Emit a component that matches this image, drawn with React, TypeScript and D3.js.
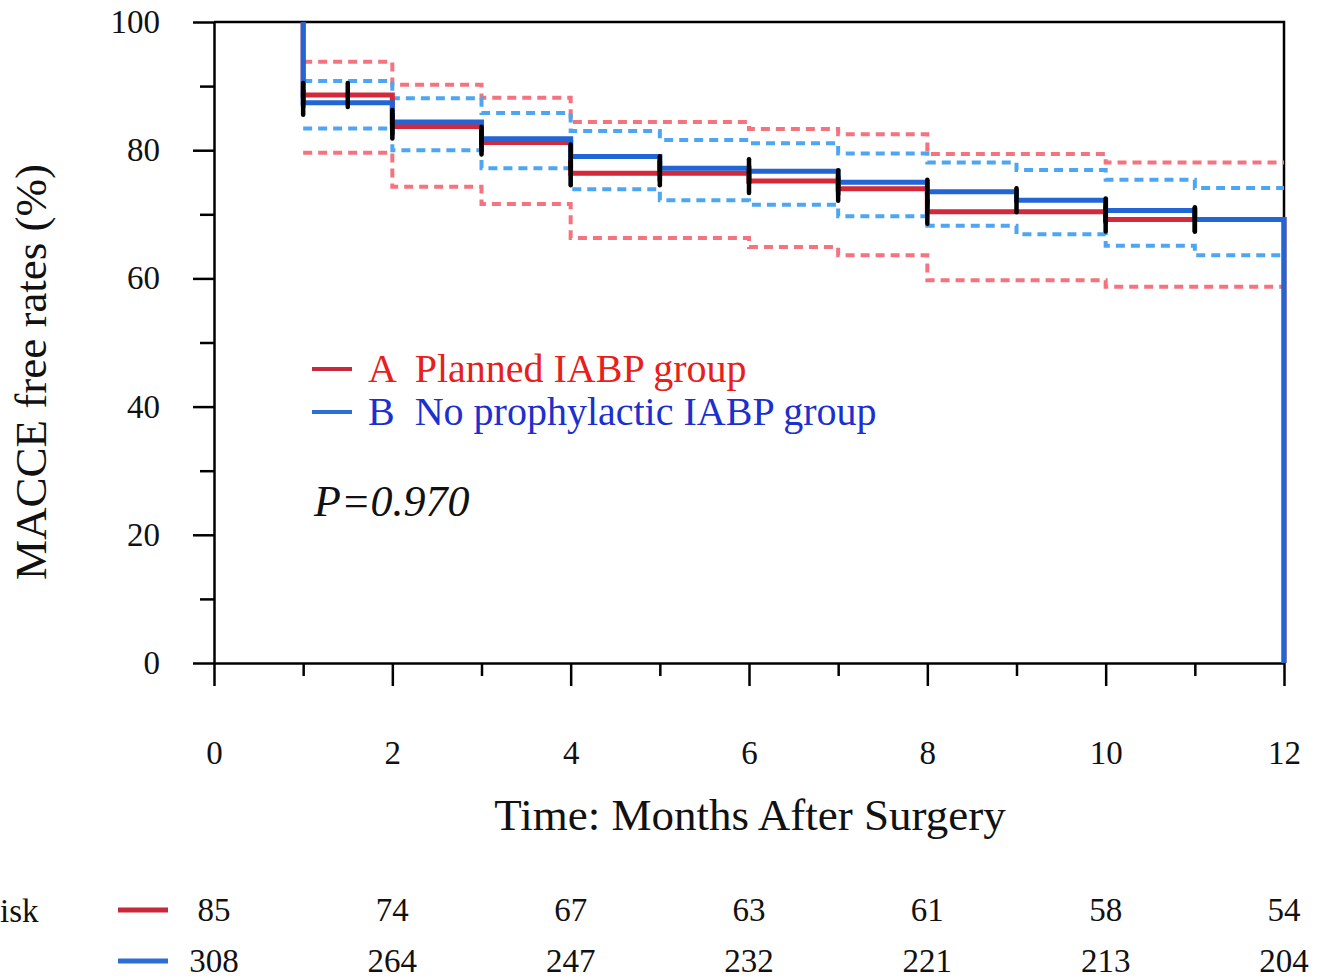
import React, { useEffect, useRef } from 'react';
import * as d3 from 'd3';

// step times (months) and survival after each step
const months = [1, 2, 3, 4, 5, 6, 7, 8, 9, 10, 11];
const survA = [88.6, 83.7, 81.2, 76.4, 76.4, 75.2, 74.0, 70.4, 70.4, 69.2, 69.2];
const survB = [87.4, 84.4, 81.8, 79.0, 77.2, 76.7, 75.0, 73.5, 72.2, 70.6, 69.2];
// 95% CI bands
const upperA = [93.8, 90.2, 88.2, 84.4, 84.4, 83.3, 82.5, 79.4, 79.4, 78.1, 78.1];
const lowerA = [79.6, 74.3, 71.6, 66.3, 66.3, 64.9, 63.6, 59.7, 59.7, 58.7, 58.7];
const upperB = [90.8, 88.1, 85.8, 83.0, 81.6, 81.1, 79.5, 78.1, 76.9, 75.4, 74.1];
const lowerB = [83.4, 80.0, 77.2, 73.9, 72.2, 71.5, 69.7, 68.2, 66.9, 65.1, 63.6];
// censor marks
const censorA = [1, 1.5, 2, 3, 4, 5, 6, 7, 8, 10, 11];
const censorB = [1, 2, 3, 4, 5, 6, 7, 8, 9, 10, 11];
const endTime = 12;

const riskTimes = [0, 2, 4, 6, 8, 10, 12];
const riskA = [85, 74, 67, 63, 61, 58, 54];
const riskB = [308, 264, 247, 232, 221, 213, 204];

const xTicks = [0, 2, 4, 6, 8, 10, 12];
const xMinor = [1, 3, 5, 7, 9, 11];
const yTicks = [0, 20, 40, 60, 80, 100];
const yMinor = [10, 30, 50, 70, 90];

const serif = '"Liberation Serif", "Times New Roman", serif';

function valueAt(t: number, surv: number[]) {
  let v = 100;
  months.forEach((m, i) => {
    if (m <= t) v = surv[i];
  });
  return v;
}

export default function App() {
  const ref = useRef<SVGSVGElement>(null);

  useEffect(() => {
    const svg = d3.select(ref.current);
    svg.selectAll('*').remove();

    const left = 214, right = 1284, top = 22, bottom = 663;
    const x = d3.scaleLinear().domain([0, 12]).range([left, right]);
    const y = d3.scaleLinear().domain([0, 100]).range([bottom, top]);

    // frame top / right
    svg.append('path')
      .attr('d', `M${left},${top}H${right}V${bottom}`)
      .attr('fill', 'none')
      .attr('stroke', '#000')
      .attr('stroke-width', 2.5);

    // axes
    const yAxis = svg.append('g').attr('transform', `translate(${left},0)`)
      .call(d3.axisLeft(y).tickValues(yTicks).tickSize(21).tickSizeOuter(0).tickPadding(33));
    svg.append('g').attr('transform', `translate(${left},0)`)
      .call(d3.axisLeft(y).tickValues(yMinor).tickSize(14).tickFormat(() => ''))
      .select('.domain').remove();
    const xAxis = svg.append('g').attr('transform', `translate(0,${bottom})`)
      .call(d3.axisBottom(x).tickValues(xTicks).tickSize(23).tickSizeOuter(0).tickPadding(55));
    svg.append('g').attr('transform', `translate(0,${bottom})`)
      .call(d3.axisBottom(x).tickValues(xMinor).tickSize(13).tickFormat(() => ''))
      .select('.domain').remove();

    svg.selectAll('.domain, .tick line')
      .attr('stroke', '#000')
      .attr('stroke-width', 2.5);
    [yAxis, xAxis].forEach(g => g.selectAll('text')
      .attr('font-family', serif)
      .attr('font-size', 33)
      .attr('fill', '#111'));

    // axis titles
    svg.append('text')
      .attr('x', 750).attr('y', 830)
      .attr('text-anchor', 'middle')
      .attr('font-family', serif).attr('font-size', 45).attr('fill', '#111')
      .text('Time: Months After Surgery');
    svg.append('text')
      .attr('transform', `translate(46,${372}) rotate(-90)`)
      .attr('text-anchor', 'middle')
      .attr('font-family', serif).attr('font-size', 45).attr('fill', '#111')
      .text('MACCE free rates (%)');

    const step = d3.line<number[]>()
      .x(d => x(d[0]))
      .y(d => y(d[1]))
      .curve(d3.curveStepAfter);

    // confidence bands
    const bands = [
      { vals: upperA, color: '#f4737f' },
      { vals: lowerA, color: '#f4737f' },
      { vals: upperB, color: '#4ea6f2' },
      { vals: lowerB, color: '#4ea6f2' },
    ];
    bands.forEach(b => {
      const pts = months.map((m, i) => [m, b.vals[i]]);
      pts.push([endTime, b.vals[b.vals.length - 1]]);
      svg.append('path')
        .attr('d', step(pts))
        .attr('fill', 'none')
        .attr('stroke', b.color)
        .attr('stroke-width', 4)
        .attr('stroke-dasharray', '9,6');
    });

    // survival curves
    const curves = [
      { surv: survA, color: '#d3293b', censor: censorA },
      { surv: survB, color: '#2166d4', censor: censorB },
    ];
    curves.forEach(c => {
      const pts = [[months[0], 100], ...months.map((m, i) => [m, c.surv[i]]), [endTime, 0]];
      svg.append('path')
        .attr('d', step(pts))
        .attr('fill', 'none')
        .attr('stroke', c.color)
        .attr('stroke-width', 5);
    });
    curves.forEach(c => {
      svg.append('g').selectAll('line')
        .data(c.censor)
        .enter()
        .append('line')
        .attr('x1', d => x(d)).attr('x2', d => x(d))
        .attr('y1', d => y(valueAt(d, c.surv)) - 12)
        .attr('y2', d => y(valueAt(d, c.surv)) + 12)
        .attr('stroke', '#000')
        .attr('stroke-width', 4.5)
        .attr('stroke-linecap', 'round');
    });

    // legend
    const legend = [
      { line: '#c8283c', text: '#e8201c', label: 'A  Planned IABP group' },
      { line: '#2b6fd4', text: '#1c2fcf', label: 'B  No prophylactic IABP group' },
    ];
    legend.forEach((l, i) => {
      const ly = 369 + i * 43;
      svg.append('line')
        .attr('x1', 312).attr('x2', 352).attr('y1', ly).attr('y2', ly)
        .attr('stroke', l.line).attr('stroke-width', 4);
      svg.append('text')
        .attr('x', 368).attr('y', ly + 13)
        .attr('font-family', serif).attr('font-size', 40)
        .attr('fill', l.text)
        .attr('xml:space', 'preserve')
        .style('white-space', 'pre')
        .text(l.label);
    });

    svg.append('text')
      .attr('x', 314).attr('y', 516)
      .attr('font-family', serif).attr('font-size', 44)
      .attr('font-style', 'italic').attr('fill', '#111')
      .text('P=0.970');

    // number at risk
    svg.append('text')
      .attr('x', 0).attr('y', 922)
      .attr('font-family', serif).attr('font-size', 33).attr('fill', '#111')
      .text('isk');
    const rows = [
      { vals: riskA, color: '#c8283c', y: 910 },
      { vals: riskB, color: '#2b6fd4', y: 961 },
    ];
    rows.forEach(r => {
      svg.append('line')
        .attr('x1', 118).attr('x2', 168).attr('y1', r.y).attr('y2', r.y)
        .attr('stroke', r.color).attr('stroke-width', 5);
      svg.append('g').selectAll('text')
        .data(r.vals)
        .enter()
        .append('text')
        .attr('x', (d, i) => x(riskTimes[i]))
        .attr('y', r.y + 11)
        .attr('text-anchor', 'middle')
        .attr('font-family', serif).attr('font-size', 33).attr('fill', '#111')
        .text(d => d);
    });
  }, []);

  return (
    <svg
      ref={ref}
      width={1320}
      height={980}
      style={{ position: 'absolute', left: 0, top: 0, background: '#fff' }}
    />
  );
}
